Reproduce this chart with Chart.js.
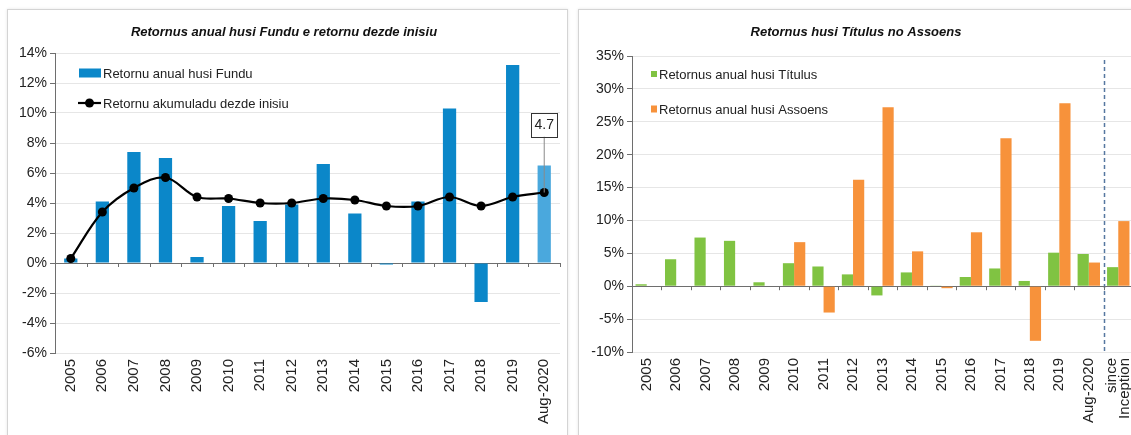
<!DOCTYPE html>
<html>
<head>
<meta charset="utf-8">
<script src="https://cdn.jsdelivr.net/npm/chart.js@4.4.0/dist/chart.umd.min.js"></script>
<style>
  html, body { margin: 0; padding: 0; background: #fff; }
  body { width: 1131px; height: 435px; overflow: hidden; position: relative; }
  .card { position: absolute; top: 9px; height: 430px; border: 1px solid #d4d4d4; box-shadow: 0 0 3px rgba(0,0,0,0.10); background: #fff; overflow: hidden; }
  #cardFund { left: 7px; width: 559px; }
  #cardTit { left: 578px; width: 570px; }
  canvas { display: block; }
</style>
</head>
<body>
<div class="card" id="cardFund"><canvas id="fundChart" width="559" height="425"></canvas></div>
<div class="card" id="cardTit"><canvas id="titChart" width="559" height="425"></canvas></div>
<script>
// data (percent)
var years = ['2005', '2006', '2007', '2008', '2009', '2010', '2011', '2012', '2013', '2014', '2015', '2016', '2017', '2018', '2019', 'Aug-2020'];
var fundAnnual = [0.3, 4.1, 7.4, 7.0, 0.4, 3.8, 2.8, 3.9, 6.6, 3.3, -0.1, 4.1, 10.3, -2.6, 13.2, 6.5];
var fundCumulative = [0.3, 3.4, 5.0, 5.7, 4.4, 4.3, 4.0, 4.0, 4.3, 4.2, 3.8, 3.8, 4.4, 3.8, 4.4, 4.7];

var titCategories = years.concat([['since', 'Inception']]);
var titulusReturns = [0.3, 4.1, 7.4, 6.9, 0.6, 3.5, 3.0, 1.8, -1.4, 2.1, 0.1, 1.4, 2.7, 0.8, 5.1, 4.9, 2.9];
var assoensReturns = [null, null, null, null, null, 6.7, -4.0, 16.2, 27.2, 5.3, -0.3, 8.2, 22.5, -8.3, 27.8, 3.6, 9.9];

var fundTicks = { min: -6, max: 14, step: 2 };
var titTicks = { min: -10, max: 35, step: 5 };

var FONT = "'Liberation Sans', Arial, sans-serif";
var AXIS = '#6e6e6e';
var GRID = '#e6e6e6';
var TEXT = '#222';
var XFONT = 15;

// small tick marks on the zero line between categories
var zeroTicks = {
    id: 'zeroTicks',
    afterDraw: function (chart) {
        var x = chart.scales.x, y = chart.scales.y, c = chart.ctx;
        var y0 = y.getPixelForValue(0);
        var n = x.ticks.length;
        var half = (x.getPixelForTick(1) - x.getPixelForTick(0)) / 2;
        c.save();
        c.strokeStyle = AXIS;
        c.lineWidth = 1;
        c.beginPath();
        for (var i = 0; i < n; i++) {
            var px = Math.round(x.getPixelForTick(i) + half) + 0.5;
            c.moveTo(px, y0);
            c.lineTo(px, y0 + 4);
        }
        c.stroke();
        c.restore();
    }
};

// two-line category labels, drawn rotated and centred on their tick
var multiLineLabels = {
    id: 'multiLineLabels',
    afterDraw: function (chart) {
        var x = chart.scales.x, c = chart.ctx;
        var lh = 13;
        chart.data.labels.forEach(function (lab, i) {
            if (!Array.isArray(lab)) return;
            var px = x.getPixelForTick(i);
            c.save();
            c.translate(px, x.top + 6);
            c.rotate(-Math.PI / 2);
            c.font = XFONT + 'px ' + FONT;
            c.fillStyle = TEXT;
            c.textAlign = 'right';
            c.textBaseline = 'middle';
            lab.forEach(function (line, k) {
                c.fillText(line, 0, (k - (lab.length - 1) / 2) * lh);
            });
            c.restore();
        });
    }
};

// legend drawn inside the plot area, like the original
function insideLegend(items, fontSize) {
    return {
        id: 'insideLegend',
        afterDraw: function (chart) {
            var a = chart.chartArea, c = chart.ctx;
            c.save();
            c.font = fontSize + 'px ' + FONT;
            c.textBaseline = 'middle';
            items.forEach(function (it) {
                var lx = a.left + it.dx, ly = a.top + it.dy;
                if (it.kind === 'rect') {
                    c.fillStyle = it.color;
                    c.fillRect(lx, ly - it.h / 2, it.w, it.h);
                } else {
                    c.strokeStyle = it.color;
                    c.lineWidth = 2.2;
                    c.beginPath();
                    c.moveTo(lx, ly);
                    c.lineTo(lx + it.w, ly);
                    c.stroke();
                    c.fillStyle = it.color;
                    c.beginPath();
                    c.arc(lx + it.w / 2, ly, 4.5, 0, Math.PI * 2);
                    c.fill();
                }
                c.fillStyle = TEXT;
                c.fillText(it.label, lx + it.w + 2, ly + 1);
            });
            c.restore();
        }
    };
}

// value box above the last cumulative point
var lastValueBox = {
    id: 'lastValueBox',
    afterDatasetsDraw: function (chart) {
        var meta = chart.getDatasetMeta(1);
        var pt = meta.data[meta.data.length - 1];
        var c = chart.ctx;
        var txt = fundCumulative[fundCumulative.length - 1].toFixed(1);
        var w = 26, h = 24;
        var bx = pt.x - w / 2, by = pt.y - 56 - h;
        c.save();
        c.strokeStyle = '#8a8a8a';
        c.lineWidth = 1;
        c.beginPath();
        c.moveTo(pt.x, by + h);
        c.lineTo(pt.x, pt.y);
        c.stroke();
        c.fillStyle = '#fff';
        c.fillRect(bx, by, w, h);
        c.strokeStyle = '#333';
        c.strokeRect(Math.round(bx) + 0.5, Math.round(by) + 0.5, w, h);
        c.fillStyle = '#222';
        c.font = '14px ' + FONT;
        c.textAlign = 'center';
        c.textBaseline = 'middle';
        c.fillText(txt, pt.x, by + h / 2 + 1);
        c.restore();
    }
};

// dashed separator before "since Inception"
var sinceLine = {
    id: 'sinceLine',
    afterDatasetsDraw: function (chart) {
        var x = chart.scales.x, a = chart.chartArea, c = chart.ctx;
        var n = x.ticks.length;
        var px = Math.round((x.getPixelForTick(n - 2) + x.getPixelForTick(n - 1)) / 2) + 0.5;
        c.save();
        c.strokeStyle = '#5677a0';
        c.lineWidth = 1.5;
        c.setLineDash([4, 3]);
        c.beginPath();
        c.moveTo(px, a.top + 4);
        c.lineTo(px, a.bottom);
        c.stroke();
        c.restore();
    }
};

function yAxis(t, width) {
    return {
        min: t.min, max: t.max,
        ticks: {
            stepSize: t.step, color: TEXT, padding: 3,
            font: { size: 14, family: FONT },
            callback: function (v) { return v + '%'; }
        },
        grid: {
            color: function (ctx) { return ctx.tick && ctx.tick.value === 0 ? AXIS : GRID; },
            tickColor: AXIS, tickLength: 5
        },
        border: { color: AXIS },
        afterFit: function (s) { s.width = width; }
    };
}

function xAxis(height) {
    return {
        grid: { display: false, drawTicks: false },
        border: { display: false },
        ticks: {
            autoSkip: false, maxRotation: 90, minRotation: 90, padding: 6,
            color: TEXT, font: { size: XFONT, family: FONT },
            callback: function (v) {
                var lab = this.getLabelForValue(v);
                return Array.isArray(lab) ? '' : lab;
            }
        },
        afterFit: function (s) { s.height = height; s.paddingLeft = 0; s.paddingRight = 0; }
    };
}

var fundBarColors = fundAnnual.map(function (v, i) {
    return i === fundAnnual.length - 1 ? '#4aa8dd' : '#0b87c9';
});

var fundConfig = {
    type: 'bar',
    data: {
        labels: years,
        datasets: [{
            label: 'Retornu anual husi Fundu',
            data: fundAnnual,
            backgroundColor: fundBarColors,
            barPercentage: 0.42,
            categoryPercentage: 1,
            order: 1
        }, {
            type: 'line',
            label: 'Retornu akumuladu dezde inisiu',
            data: fundCumulative,
            borderColor: '#000',
            borderWidth: 2.2,
            pointRadius: 4.5,
            pointBackgroundColor: '#000',
            pointBorderWidth: 0,
            tension: 0.35,
            order: 0
        }]
    },
    options: {
        responsive: false,
        animation: false,
        layout: { padding: { left: 0, right: 7, top: 0, bottom: 0 } },
        plugins: {
            legend: { display: false },
            tooltip: { enabled: false },
            title: {
                display: true,
                text: 'Retornus anual husi Fundu e retornu dezde inisiu',
                color: '#111',
                font: { size: 13, weight: 'bold', style: 'italic', family: FONT },
                padding: { top: 14.2, bottom: 13.2 }
            }
        },
        scales: {
            x: xAxis(82),
            y: yAxis(fundTicks, 47)
        }
    },
    plugins: [zeroTicks, lastValueBox, insideLegend([
        { kind: 'rect', label: 'Retornu anual husi Fundu', color: '#0b87c9', dx: 24, dy: 20, w: 22, h: 9 },
        { kind: 'line', label: 'Retornu akumuladu dezde inisiu', color: '#000', dx: 23, dy: 50, w: 23 }
    ], 13)]
};

var titConfig = {
    type: 'bar',
    data: {
        labels: titCategories,
        datasets: [{
            label: 'Retornus anual husi Títulus',
            data: titulusReturns,
            backgroundColor: '#80c342',
            barPercentage: 1,
            categoryPercentage: 0.76
        }, {
            label: 'Retornus anual husi Assoens',
            data: assoensReturns,
            backgroundColor: '#f7923b',
            barPercentage: 1,
            categoryPercentage: 0.76
        }]
    },
    options: {
        responsive: false,
        animation: false,
        layout: { padding: { left: 0, right: 5, top: 0, bottom: 0 } },
        plugins: {
            legend: { display: false },
            tooltip: { enabled: false },
            title: {
                display: true,
                text: 'Retornus husi Títulus no Assoens',
                color: '#111',
                font: { size: 13, weight: 'bold', style: 'italic', family: FONT },
                padding: { top: 14.2, bottom: 16.2 }
            }
        },
        scales: {
            x: xAxis(83),
            y: yAxis(titTicks, 53)
        }
    },
    plugins: [zeroTicks, sinceLine, multiLineLabels, insideLegend([
        { kind: 'rect', label: 'Retornus anual husi Títulus', color: '#80c342', dx: 19, dy: 18, w: 6, h: 6 },
        { kind: 'rect', label: 'Retornus anual husi Assoens', color: '#f7923b', dx: 19, dy: 53, w: 6, h: 7 }
    ], 13)]
};

window.fundChart = new Chart(document.getElementById('fundChart').getContext('2d'), fundConfig);
window.titChart = new Chart(document.getElementById('titChart').getContext('2d'), titConfig);
</script>
</body>
</html>
